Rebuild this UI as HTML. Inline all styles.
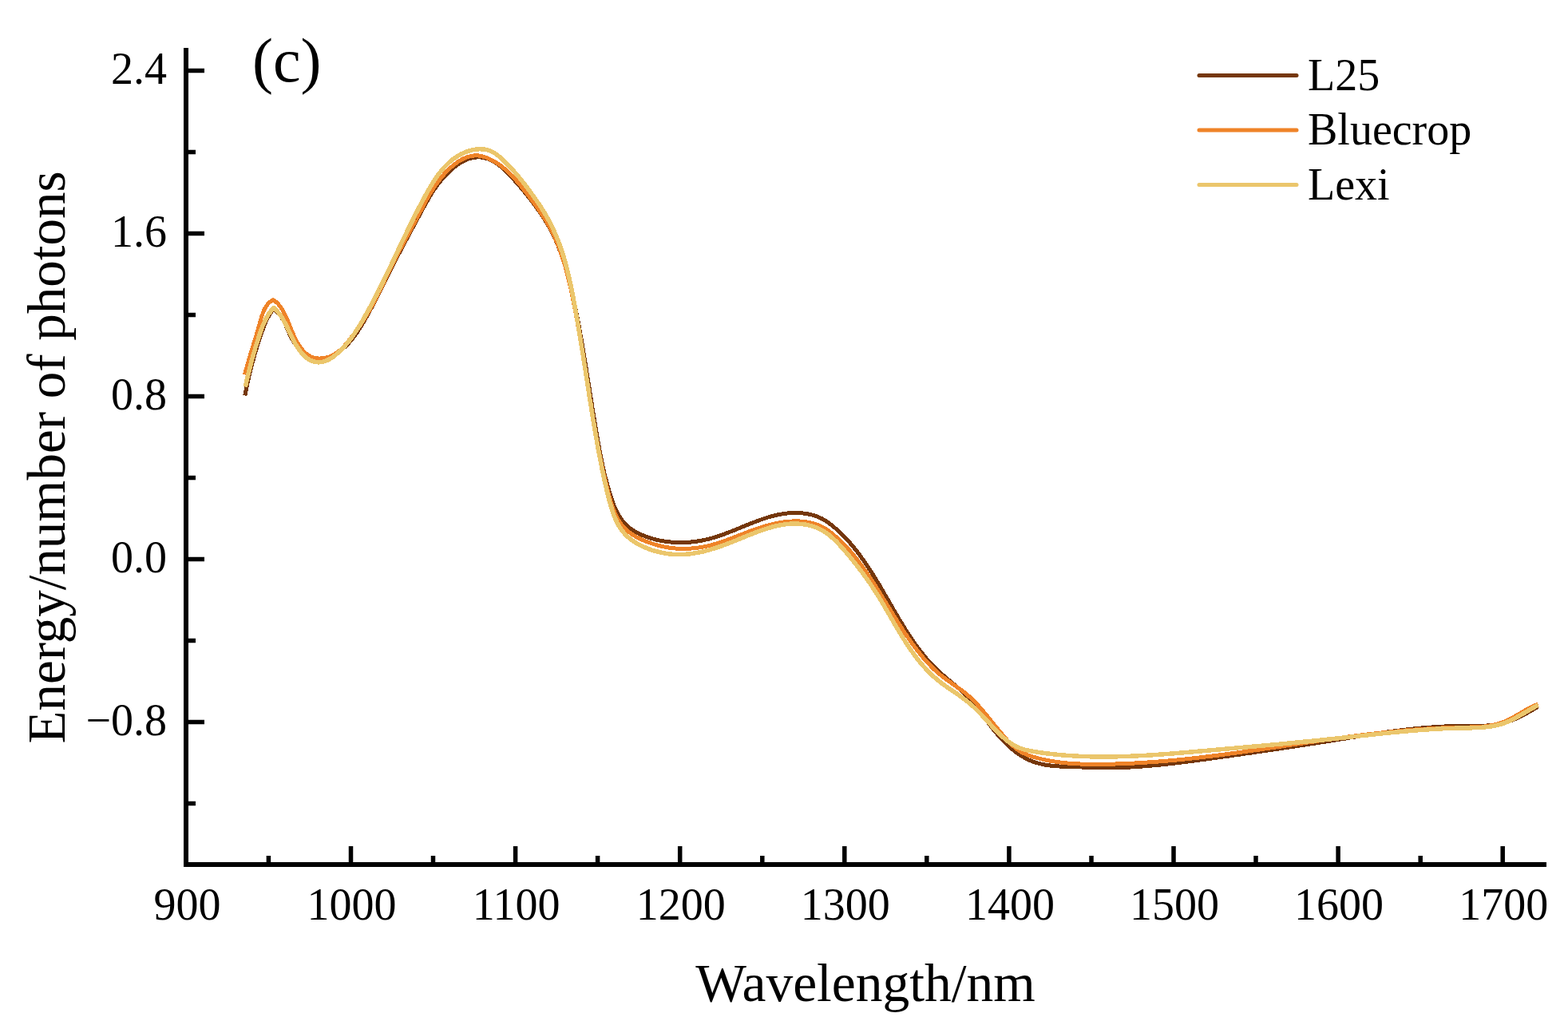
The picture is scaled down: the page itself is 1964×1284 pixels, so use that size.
<!DOCTYPE html>
<html><head><meta charset="utf-8"><title>Energy/number of photons vs Wavelength</title>
<style>
html,body{margin:0;padding:0;background:#fff;}
body{width:1964px;height:1284px;overflow:hidden;}
svg{display:block;}
text{font-family:"Liberation Serif","Times New Roman",serif;fill:#000;}
</style></head><body>
<svg width="1964" height="1284" viewBox="0 0 1964 1284">
<rect width="1964" height="1284" fill="#fff"/>
<g fill="none" stroke-width="5" stroke-linejoin="round" stroke-linecap="butt" shape-rendering="crispEdges">
<path stroke="#75370b" d="M306.8,495.5L307.2,493.5 307.6,491.5 308.0,489.5 308.4,487.5 308.8,485.5 309.2,483.5 309.7,481.5 310.1,479.5 310.5,477.4 311.0,475.4 311.4,473.4 311.9,471.4 312.4,469.4 312.9,467.4 313.4,465.4 313.8,463.4 314.3,461.3 314.9,459.3 315.4,457.3 315.9,455.3 316.4,453.3 317.0,451.3 317.5,449.3 318.1,447.3 318.6,445.3 319.2,443.3 319.8,441.3 320.4,439.3 321.0,437.3 321.6,435.4 322.2,433.4 322.8,431.4 323.4,429.4 324.1,427.4 324.7,425.5 325.4,423.5 326.0,421.6 326.7,419.6 327.4,417.7 328.1,415.7 328.8,413.8 329.5,411.8 330.2,409.9 330.9,408.0 331.7,406.1 332.5,404.2 333.3,402.3 334.2,400.5 335.1,398.7 336.0,396.9 337.0,395.2 338.1,393.4 339.2,391.8 340.4,390.1 341.7,388.5 343.0,387.0 344.6,388.2 346.0,389.5 347.4,390.9 348.7,392.3 350.0,393.8 351.1,395.4 352.2,397.0 353.3,398.7 354.3,400.4 355.2,402.1 356.1,403.9 357.0,405.7 357.9,407.5 358.7,409.4 359.5,411.3 360.4,413.1 361.2,415.0 362.0,416.9 362.9,418.7 363.8,420.6 364.7,422.5 365.6,424.3 366.6,426.1 367.6,427.9 368.7,429.6 369.9,431.3 371.1,432.9 372.4,434.5 373.7,436.1 375.1,437.6 376.6,439.0 378.1,440.4 379.6,441.7 381.3,442.9 382.9,444.0 384.6,445.0 386.3,446.0 388.1,446.8 389.9,447.6 391.7,448.2 393.6,448.7 395.4,449.1 397.3,449.4 399.2,449.6 401.1,449.6 403.0,449.5 404.9,449.2 406.8,448.9 408.6,448.5 410.5,447.9 412.4,447.2 414.2,446.5 416.1,445.7 417.9,444.8 419.6,443.8 421.4,442.7 423.1,441.6 424.8,440.5 426.4,439.3 428.0,438.0 429.5,436.8 431.1,435.4 432.5,434.1 434.0,432.7 435.4,431.2 436.8,429.8 438.1,428.3 439.4,426.7 440.7,425.2 442.0,423.6 443.2,422.0 444.4,420.4 445.6,418.7 446.8,417.1 447.9,415.4 449.0,413.7 450.1,412.0 451.2,410.2 452.3,408.5 453.4,406.7 454.4,405.0 455.4,403.2 456.4,401.5 457.4,399.7 458.4,397.9 459.4,396.2 460.4,394.4 461.4,392.6 462.4,390.9 463.3,389.1 464.3,387.3 465.2,385.6 466.1,383.8 467.1,382.0 468.0,380.3 468.9,378.5 469.8,376.7 470.7,375.0 471.7,373.2 472.6,371.4 473.5,369.6 474.4,367.9 475.2,366.1 476.1,364.3 477.0,362.5 477.9,360.8 478.8,359.0 479.7,357.2 480.6,355.4 481.4,353.7 482.3,351.9 483.2,350.1 484.1,348.3 485.0,346.6 485.9,344.8 486.7,343.0 487.6,341.2 488.5,339.4 489.4,337.7 490.3,335.9 491.2,334.1 492.1,332.3 493.0,330.6 493.9,328.8 494.8,327.0 495.7,325.2 496.7,323.4 497.6,321.7 498.5,319.9 499.4,318.1 500.4,316.3 501.3,314.5 502.2,312.8 503.2,311.0 504.1,309.2 505.0,307.4 506.0,305.7 506.9,303.9 507.9,302.1 508.8,300.3 509.8,298.5 510.7,296.8 511.7,295.0 512.6,293.2 513.6,291.4 514.5,289.7 515.5,287.9 516.4,286.1 517.4,284.4 518.3,282.6 519.3,280.8 520.2,279.0 521.2,277.3 522.1,275.5 523.0,273.7 524.0,272.0 524.9,270.2 525.9,268.5 526.8,266.7 527.8,264.9 528.7,263.2 529.6,261.4 530.6,259.7 531.6,257.9 532.5,256.2 533.5,254.4 534.5,252.7 535.5,251.0 536.4,249.3 537.5,247.6 538.5,245.8 539.5,244.2 540.6,242.5 541.6,240.8 542.7,239.1 543.8,237.5 545.0,235.8 546.1,234.2 547.3,232.6 548.5,231.0 549.7,229.4 550.9,227.8 552.2,226.2 553.5,224.6 554.8,223.1 556.2,221.6 557.5,220.1 559.0,218.6 560.4,217.1 561.9,215.7 563.4,214.2 565.0,212.8 566.5,211.4 568.1,210.1 569.8,208.8 571.4,207.6 573.1,206.3 574.8,205.2 576.6,204.1 578.3,203.1 580.1,202.1 581.9,201.2 583.7,200.4 585.5,199.6 587.3,198.9 589.2,198.3 591.0,197.9 592.9,197.5 594.8,197.2 596.7,197.0 598.6,196.9 600.5,196.9 602.4,197.0 604.3,197.3 606.1,197.6 608.0,198.1 609.9,198.6 611.7,199.2 613.5,200.0 615.3,200.8 617.1,201.7 618.8,202.6 620.5,203.7 622.2,204.8 623.9,205.9 625.5,207.2 627.1,208.4 628.7,209.8 630.2,211.1 631.7,212.5 633.2,214.0 634.7,215.4 636.2,216.9 637.6,218.4 639.0,219.9 640.4,221.4 641.8,223.0 643.2,224.5 644.5,226.0 645.8,227.5 647.2,229.0 648.5,230.5 649.8,232.0 651.1,233.5 652.4,235.0 653.6,236.5 654.9,238.0 656.1,239.5 657.4,241.1 658.6,242.6 659.9,244.1 661.1,245.7 662.3,247.2 663.6,248.8 664.8,250.3 666.0,251.9 667.2,253.5 668.4,255.1 669.6,256.7 670.8,258.3 672.0,260.0 673.2,261.6 674.4,263.2 675.5,264.9 676.7,266.5 677.8,268.2 679.0,269.9 680.1,271.6 681.2,273.3 682.2,275.0 683.3,276.7 684.3,278.4 685.4,280.1 686.4,281.9 687.4,283.6 688.3,285.4 689.3,287.1 690.2,288.9 691.1,290.7 692.0,292.5 692.9,294.2 693.8,296.0 694.6,297.8 695.5,299.7 696.3,301.5 697.1,303.3 697.9,305.1 698.6,307.0 699.4,308.8 700.1,310.6 700.8,312.5 701.6,314.4 702.3,316.2 702.9,318.1 703.6,320.0 704.3,321.9 704.9,323.7 705.6,325.6 706.2,327.5 706.8,329.4 707.4,331.3 708.0,333.2 708.6,335.2 709.1,337.1 709.7,339.0 710.2,340.9 710.8,342.8 711.3,344.8 711.8,346.7 712.4,348.6 712.9,350.6 713.4,352.5 713.8,354.5 714.3,356.4 714.8,358.4 715.3,360.3 715.7,362.3 716.2,364.2 716.6,366.2 717.1,368.2 717.5,370.1 717.9,372.1 718.3,374.1 718.8,376.0 719.2,378.0 719.6,380.0 720.0,381.9 720.4,383.9 720.8,385.9 721.2,387.8 721.6,389.8 722.0,391.8 722.4,393.7 722.7,395.7 723.1,397.7 723.5,399.7 723.9,401.6 724.2,403.6 724.6,405.6 725.0,407.6 725.3,409.5 725.7,411.5 726.1,413.5 726.4,415.5 726.8,417.4 727.1,419.4 727.5,421.4 727.8,423.4 728.2,425.3 728.5,427.3 728.8,429.3 729.2,431.3 729.5,433.2 729.9,435.2 730.2,437.2 730.5,439.2 730.9,441.1 731.2,443.1 731.5,445.1 731.8,447.1 732.2,449.1 732.5,451.0 732.8,453.0 733.1,455.0 733.5,457.0 733.8,458.9 734.1,460.9 734.4,462.9 734.7,464.9 735.0,466.8 735.4,468.8 735.7,470.8 736.0,472.8 736.3,474.8 736.6,476.7 736.9,478.7 737.2,480.7 737.6,482.7 737.9,484.6 738.2,486.6 738.5,488.6 738.8,490.6 739.1,492.5 739.4,494.5 739.7,496.5 740.1,498.5 740.4,500.5 740.7,502.4 741.0,504.4 741.3,506.4 741.6,508.4 741.9,510.3 742.3,512.3 742.6,514.3 742.9,516.3 743.2,518.2 743.5,520.2 743.9,522.2 744.2,524.1 744.5,526.1 744.8,528.1 745.2,530.1 745.5,532.0 745.8,534.0 746.1,536.0 746.5,537.9 746.8,539.9 747.1,541.9 747.5,543.9 747.8,545.8 748.1,547.8 748.5,549.8 748.8,551.7 749.2,553.7 749.5,555.7 749.9,557.6 750.2,559.6 750.6,561.6 750.9,563.5 751.3,565.5 751.7,567.4 752.1,569.4 752.4,571.4 752.8,573.3 753.2,575.3 753.6,577.3 754.0,579.2 754.4,581.2 754.8,583.1 755.3,585.1 755.7,587.0 756.1,589.0 756.6,591.0 757.0,592.9 757.5,594.9 758.0,596.8 758.5,598.8 759.0,600.7 759.5,602.7 760.0,604.6 760.5,606.6 761.1,608.5 761.6,610.5 762.2,612.4 762.7,614.4 763.3,616.3 763.9,618.3 764.5,620.2 765.1,622.1 765.8,624.1 766.4,626.0 767.1,627.9 767.8,629.9 768.5,631.8 769.3,633.7 770.1,635.5 770.9,637.4 771.7,639.2 772.6,641.0 773.5,642.8 774.4,644.5 775.4,646.2 776.5,647.9 777.5,649.5 778.7,651.1 779.9,652.6 781.1,654.1 782.4,655.6 783.7,656.9 785.1,658.3 786.6,659.6 788.1,660.8 789.6,662.0 791.2,663.1 792.9,664.2 794.5,665.3 796.2,666.3 798.0,667.2 799.8,668.1 801.6,669.0 803.4,669.9 805.3,670.7 807.1,671.4 809.0,672.2 810.9,672.8 812.9,673.5 814.8,674.1 816.8,674.7 818.7,675.2 820.7,675.8 822.7,676.2 824.7,676.7 826.7,677.1 828.7,677.5 830.7,677.8 832.7,678.1 834.8,678.4 836.8,678.7 838.8,678.9 840.8,679.1 842.8,679.3 844.8,679.4 846.8,679.5 848.8,679.6 850.8,679.6 852.8,679.6 854.7,679.6 856.7,679.6 858.7,679.5 860.7,679.4 862.6,679.3 864.6,679.1 866.6,678.9 868.5,678.7 870.5,678.5 872.4,678.2 874.3,677.9 876.3,677.6 878.2,677.2 880.2,676.9 882.1,676.5 884.0,676.0 885.9,675.6 887.9,675.1 889.8,674.6 891.7,674.1 893.6,673.5 895.5,672.9 897.4,672.3 899.3,671.7 901.2,671.1 903.1,670.4 905.0,669.8 906.9,669.1 908.8,668.4 910.7,667.7 912.6,666.9 914.5,666.2 916.4,665.5 918.2,664.7 920.1,664.0 922.0,663.2 923.9,662.4 925.8,661.7 927.7,660.9 929.6,660.1 931.4,659.3 933.3,658.6 935.2,657.8 937.1,657.0 939.0,656.3 940.9,655.5 942.8,654.8 944.7,654.1 946.6,653.4 948.4,652.6 950.3,652.0 952.2,651.3 954.1,650.6 956.0,650.0 958.0,649.3 959.9,648.7 961.8,648.1 963.7,647.6 965.6,647.0 967.5,646.5 969.4,646.0 971.4,645.5 973.3,645.1 975.2,644.7 977.2,644.3 979.1,644.0 981.1,643.6 983.0,643.4 985.0,643.1 986.9,642.9 988.9,642.7 990.9,642.6 992.9,642.5 994.8,642.4 996.8,642.4 998.8,642.5 1000.8,642.6 1002.8,642.7 1004.8,642.8 1006.8,643.1 1008.8,643.3 1010.8,643.7 1012.7,644.0 1014.7,644.5 1016.6,644.9 1018.6,645.5 1020.5,646.1 1022.4,646.7 1024.2,647.4 1026.1,648.2 1027.9,649.0 1029.7,649.9 1031.4,650.9 1033.1,651.9 1034.8,653.0 1036.5,654.1 1038.1,655.2 1039.8,656.4 1041.4,657.7 1042.9,658.9 1044.5,660.2 1046.0,661.5 1047.5,662.8 1049.0,664.2 1050.5,665.5 1052.0,666.9 1053.4,668.3 1054.9,669.7 1056.3,671.1 1057.7,672.6 1059.1,674.0 1060.5,675.5 1061.8,676.9 1063.2,678.4 1064.5,679.9 1065.8,681.5 1067.1,683.0 1068.4,684.5 1069.7,686.1 1070.9,687.7 1072.2,689.2 1073.4,690.8 1074.7,692.4 1075.9,694.0 1077.1,695.6 1078.3,697.3 1079.4,698.9 1080.6,700.5 1081.8,702.2 1082.9,703.8 1084.1,705.5 1085.2,707.1 1086.3,708.8 1087.4,710.5 1088.5,712.1 1089.6,713.8 1090.7,715.5 1091.8,717.2 1092.8,718.9 1093.9,720.6 1094.9,722.3 1096.0,724.0 1097.0,725.7 1098.1,727.4 1099.1,729.1 1100.1,730.8 1101.2,732.5 1102.2,734.2 1103.2,736.0 1104.2,737.7 1105.2,739.4 1106.2,741.1 1107.2,742.8 1108.2,744.6 1109.2,746.3 1110.2,748.0 1111.2,749.7 1112.2,751.5 1113.2,753.2 1114.2,754.9 1115.2,756.7 1116.2,758.4 1117.2,760.1 1118.2,761.8 1119.2,763.6 1120.2,765.3 1121.2,767.0 1122.2,768.7 1123.2,770.5 1124.2,772.2 1125.2,773.9 1126.2,775.6 1127.3,777.3 1128.3,779.0 1129.3,780.7 1130.4,782.5 1131.4,784.2 1132.5,785.9 1133.5,787.6 1134.6,789.3 1135.6,790.9 1136.7,792.6 1137.8,794.3 1138.9,796.0 1140.0,797.7 1141.1,799.3 1142.3,801.0 1143.4,802.6 1144.5,804.3 1145.7,805.9 1146.8,807.5 1148.0,809.2 1149.2,810.8 1150.4,812.4 1151.6,814.0 1152.8,815.5 1154.0,817.1 1155.3,818.7 1156.5,820.2 1157.8,821.8 1159.1,823.3 1160.4,824.9 1161.7,826.4 1163.0,827.9 1164.3,829.4 1165.7,830.8 1167.0,832.3 1168.4,833.7 1169.8,835.2 1171.2,836.6 1172.7,838.0 1174.1,839.4 1175.6,840.8 1177.1,842.1 1178.6,843.5 1180.1,844.8 1181.6,846.1 1183.1,847.5 1184.7,848.8 1186.2,850.1 1187.8,851.4 1189.3,852.7 1190.9,854.0 1192.4,855.3 1194.0,856.5 1195.5,857.8 1197.1,859.1 1198.6,860.4 1200.1,861.7 1201.7,863.1 1203.2,864.4 1204.7,865.7 1206.1,867.1 1207.6,868.4 1209.0,869.8 1210.5,871.2 1211.8,872.6 1213.2,874.0 1214.6,875.5 1215.9,876.9 1217.2,878.4 1218.5,879.9 1219.7,881.4 1221.0,882.9 1222.2,884.5 1223.4,886.0 1224.7,887.6 1225.9,889.2 1227.1,890.7 1228.2,892.3 1229.4,893.9 1230.6,895.5 1231.8,897.1 1232.9,898.7 1234.1,900.3 1235.3,901.9 1236.5,903.6 1237.7,905.2 1238.9,906.8 1240.1,908.4 1241.3,910.0 1242.6,911.6 1243.8,913.2 1245.1,914.8 1246.4,916.3 1247.7,917.9 1249.0,919.5 1250.3,921.0 1251.6,922.5 1253.0,924.1 1254.4,925.6 1255.7,927.0 1257.1,928.5 1258.6,929.9 1260.0,931.4 1261.5,932.8 1262.9,934.2 1264.4,935.5 1265.9,936.8 1267.4,938.1 1269.0,939.4 1270.5,940.7 1272.1,941.9 1273.7,943.0 1275.3,944.2 1276.9,945.3 1278.6,946.4 1280.3,947.4 1281.9,948.4 1283.7,949.4 1285.4,950.3 1287.1,951.2 1288.9,952.0 1290.7,952.8 1292.5,953.5 1294.3,954.2 1296.2,954.9 1298.0,955.5 1299.9,956.0 1301.8,956.5 1303.8,957.0 1305.7,957.4 1307.7,957.8 1309.6,958.2 1311.6,958.5 1313.6,958.8 1315.6,959.0 1317.6,959.3 1319.7,959.5 1321.7,959.6 1323.7,959.8 1325.8,959.9 1327.8,960.1 1329.9,960.2 1331.9,960.3 1334.0,960.3 1336.1,960.4 1338.1,960.5 1340.2,960.5 1342.2,960.6 1344.3,960.7 1346.3,960.7 1348.3,960.8 1350.4,960.9 1352.4,960.9 1354.4,961.0 1356.4,961.1 1358.4,961.2 1360.4,961.2 1362.4,961.3 1364.4,961.4 1366.4,961.4 1368.4,961.5 1370.4,961.6 1372.4,961.6 1374.4,961.7 1376.4,961.7 1378.3,961.7 1380.3,961.8 1382.3,961.8 1384.3,961.8 1386.3,961.8 1388.3,961.8 1390.3,961.8 1392.2,961.8 1394.2,961.8 1396.2,961.7 1398.2,961.7 1400.2,961.6 1402.2,961.6 1404.2,961.5 1406.2,961.4 1408.2,961.4 1410.1,961.3 1412.1,961.2 1414.1,961.1 1416.1,961.0 1418.1,960.9 1420.1,960.8 1422.1,960.6 1424.1,960.5 1426.1,960.4 1428.1,960.2 1430.1,960.1 1432.1,959.9 1434.0,959.8 1436.0,959.6 1438.0,959.5 1440.0,959.3 1442.0,959.1 1444.0,958.9 1446.0,958.8 1448.0,958.6 1450.0,958.4 1452.0,958.2 1454.0,958.0 1456.0,957.8 1458.0,957.6 1460.0,957.3 1462.0,957.1 1463.9,956.9 1465.9,956.7 1467.9,956.4 1469.9,956.2 1471.9,956.0 1473.9,955.7 1475.9,955.5 1477.9,955.3 1479.9,955.0 1481.9,954.8 1483.9,954.5 1485.9,954.3 1487.9,954.0 1489.9,953.7 1491.9,953.5 1493.8,953.2 1495.8,953.0 1497.8,952.7 1499.8,952.4 1501.8,952.2 1503.8,951.9 1505.8,951.6 1507.8,951.4 1509.8,951.1 1511.8,950.8 1513.8,950.5 1515.7,950.3 1517.7,950.0 1519.7,949.7 1521.7,949.4 1523.7,949.2 1525.7,948.9 1527.7,948.6 1529.7,948.3 1531.6,948.1 1533.6,947.8 1535.6,947.5 1537.6,947.2 1539.6,947.0 1541.6,946.7 1543.6,946.4 1545.6,946.1 1547.5,945.8 1549.5,945.6 1551.5,945.3 1553.5,945.0 1555.5,944.7 1557.5,944.4 1559.4,944.1 1561.4,943.9 1563.4,943.6 1565.4,943.3 1567.4,943.0 1569.4,942.7 1571.3,942.4 1573.3,942.1 1575.3,941.9 1577.3,941.6 1579.3,941.3 1581.2,941.0 1583.2,940.7 1585.2,940.4 1587.2,940.1 1589.2,939.8 1591.1,939.5 1593.1,939.3 1595.1,939.0 1597.1,938.7 1599.1,938.4 1601.0,938.1 1603.0,937.8 1605.0,937.5 1607.0,937.2 1609.0,936.9 1610.9,936.6 1612.9,936.3 1614.9,936.0 1616.9,935.7 1618.9,935.4 1620.8,935.1 1622.8,934.8 1624.8,934.5 1626.8,934.2 1628.8,933.9 1630.7,933.6 1632.7,933.3 1634.7,933.0 1636.7,932.7 1638.6,932.4 1640.6,932.1 1642.6,931.8 1644.6,931.5 1646.6,931.2 1648.5,930.9 1650.5,930.5 1652.5,930.2 1654.5,929.9 1656.4,929.6 1658.4,929.3 1660.4,929.0 1662.4,928.7 1664.4,928.4 1666.3,928.0 1668.3,927.7 1670.3,927.4 1672.3,927.1 1674.2,926.8 1676.2,926.5 1678.2,926.1 1680.2,925.8 1682.2,925.5 1684.1,925.2 1686.1,924.9 1688.1,924.6 1690.1,924.2 1692.0,923.9 1694.0,923.6 1696.0,923.3 1698.0,923.0 1700.0,922.7 1701.9,922.3 1703.9,922.0 1705.9,921.7 1707.9,921.4 1709.9,921.1 1711.8,920.8 1713.8,920.5 1715.8,920.2 1717.8,919.9 1719.8,919.6 1721.7,919.3 1723.7,919.0 1725.7,918.7 1727.7,918.4 1729.7,918.1 1731.7,917.8 1733.6,917.6 1735.6,917.3 1737.6,917.0 1739.6,916.7 1741.6,916.5 1743.6,916.2 1745.6,915.9 1747.5,915.7 1749.5,915.4 1751.5,915.2 1753.5,914.9 1755.5,914.7 1757.5,914.4 1759.5,914.2 1761.5,914.0 1763.4,913.7 1765.4,913.5 1767.4,913.3 1769.4,913.1 1771.4,912.9 1773.4,912.7 1775.4,912.5 1777.4,912.3 1779.4,912.1 1781.4,911.9 1783.4,911.7 1785.4,911.6 1787.4,911.4 1789.4,911.3 1791.4,911.1 1793.4,911.0 1795.4,910.8 1797.4,910.7 1799.4,910.6 1801.4,910.4 1803.4,910.3 1805.4,910.2 1807.4,910.1 1809.4,910.0 1811.4,909.9 1813.4,909.9 1815.4,909.8 1817.4,909.7 1819.4,909.7 1821.4,909.6 1823.4,909.6 1825.4,909.6 1827.4,909.5 1829.4,909.5 1831.5,909.5 1833.5,909.5 1835.5,909.5 1837.5,909.5 1839.5,909.5 1841.5,909.5 1843.5,909.5 1845.5,909.5 1847.5,909.5 1849.6,909.5 1851.6,909.5 1853.6,909.4 1855.6,909.4 1857.6,909.3 1859.5,909.2 1861.5,909.1 1863.5,908.9 1865.5,908.8 1867.5,908.6 1869.4,908.4 1871.4,908.1 1873.4,907.8 1875.3,907.5 1877.3,907.1 1879.2,906.7 1881.1,906.3 1883.1,905.8 1885.0,905.3 1886.9,904.7 1888.8,904.1 1890.7,903.4 1892.6,902.7 1894.5,902.0 1896.3,901.2 1898.2,900.4 1900.1,899.6 1901.9,898.7 1903.7,897.8 1905.6,896.9 1907.4,896.0 1909.2,895.1 1910.9,894.1 1912.7,893.1 1914.5,892.1 1916.2,891.1 1918.0,890.1 1919.7,889.1 1921.4,888.1 1923.1,887.1 1924.8,886.1 1926.5,885.1"/>
<path stroke="#ef8328" d="M306.5,469.5L307.0,467.5 307.5,465.5 308.1,463.5 308.6,461.5 309.1,459.5 309.7,457.5 310.2,455.6 310.8,453.6 311.4,451.7 311.9,449.7 312.5,447.7 313.1,445.8 313.7,443.8 314.3,441.9 314.9,439.9 315.5,438.0 316.1,436.1 316.7,434.1 317.3,432.2 317.9,430.2 318.5,428.3 319.1,426.3 319.7,424.3 320.3,422.4 320.9,420.4 321.4,418.5 322.0,416.5 322.6,414.5 323.2,412.5 323.8,410.5 324.4,408.5 324.9,406.5 325.5,404.5 326.1,402.5 326.6,400.4 327.2,398.4 327.8,396.4 328.5,394.4 329.2,392.5 329.9,390.6 330.7,388.7 331.5,386.9 332.5,385.2 333.5,383.6 334.6,382.0 335.9,380.5 337.2,379.1 338.7,377.8 340.3,376.6 342.0,375.6 343.7,376.7 345.3,377.9 346.8,379.2 348.2,380.5 349.4,382.0 350.7,383.5 351.8,385.0 352.9,386.6 353.9,388.2 354.8,389.9 355.7,391.6 356.6,393.4 357.5,395.1 358.3,396.9 359.1,398.7 359.8,400.5 360.6,402.3 361.4,404.2 362.1,406.0 362.9,407.9 363.6,409.7 364.4,411.6 365.2,413.5 366.0,415.4 366.8,417.3 367.6,419.2 368.5,421.1 369.4,423.0 370.4,424.9 371.3,426.8 372.3,428.7 373.4,430.5 374.5,432.3 375.7,434.1 376.8,435.8 378.1,437.4 379.4,438.9 380.7,440.4 382.1,441.8 383.5,443.1 385.0,444.2 386.6,445.3 388.2,446.2 389.9,447.0 391.6,447.6 393.4,448.2 395.2,448.6 397.1,448.8 399.0,449.0 400.9,449.0 402.8,448.9 404.8,448.7 406.7,448.4 408.6,448.0 410.5,447.5 412.4,446.9 414.3,446.1 416.1,445.3 417.9,444.4 419.6,443.4 421.3,442.3 422.9,441.1 424.5,439.9 426.0,438.6 427.5,437.2 429.0,435.8 430.4,434.3 431.8,432.8 433.1,431.3 434.5,429.7 435.8,428.1 437.0,426.5 438.3,424.8 439.6,423.2 440.8,421.6 442.0,420.0 443.3,418.4 444.5,416.7 445.7,415.1 446.9,413.5 448.0,411.9 449.2,410.3 450.3,408.6 451.5,407.0 452.6,405.3 453.7,403.7 454.8,402.0 455.8,400.3 456.9,398.6 457.9,396.9 459.0,395.2 460.0,393.5 461.0,391.8 462.0,390.1 463.0,388.4 463.9,386.6 464.9,384.9 465.9,383.1 466.8,381.4 467.7,379.6 468.7,377.8 469.6,376.1 470.5,374.3 471.4,372.5 472.3,370.7 473.2,368.9 474.1,367.2 475.0,365.4 475.9,363.6 476.7,361.8 477.6,360.0 478.5,358.2 479.4,356.4 480.2,354.6 481.1,352.8 482.0,350.9 482.8,349.1 483.7,347.3 484.6,345.5 485.4,343.7 486.3,341.9 487.2,340.1 488.1,338.3 488.9,336.5 489.8,334.7 490.7,332.9 491.6,331.1 492.5,329.3 493.4,327.5 494.3,325.8 495.2,324.0 496.1,322.2 497.0,320.4 498.0,318.6 498.9,316.9 499.8,315.1 500.7,313.3 501.7,311.5 502.6,309.8 503.6,308.0 504.5,306.2 505.4,304.5 506.4,302.7 507.3,300.9 508.3,299.2 509.2,297.4 510.2,295.6 511.1,293.9 512.1,292.1 513.0,290.3 513.9,288.6 514.9,286.8 515.8,285.1 516.8,283.3 517.7,281.5 518.7,279.8 519.6,278.0 520.5,276.2 521.5,274.5 522.4,272.7 523.3,270.9 524.3,269.1 525.2,267.4 526.1,265.6 527.1,263.8 528.0,262.1 528.9,260.3 529.9,258.5 530.8,256.8 531.7,255.0 532.7,253.2 533.6,251.5 534.6,249.7 535.6,248.0 536.6,246.2 537.6,244.5 538.6,242.8 539.6,241.1 540.7,239.4 541.7,237.7 542.8,236.0 543.9,234.3 545.0,232.7 546.1,231.0 547.3,229.4 548.5,227.8 549.7,226.1 550.9,224.5 552.2,223.0 553.5,221.4 554.8,219.9 556.1,218.3 557.5,216.8 558.9,215.3 560.3,213.8 561.8,212.4 563.3,211.0 564.8,209.6 566.4,208.2 568.0,206.9 569.6,205.6 571.3,204.3 572.9,203.1 574.6,202.0 576.4,201.0 578.1,200.0 579.9,199.0 581.7,198.2 583.5,197.4 585.3,196.8 587.1,196.2 589.0,195.7 590.8,195.3 592.7,195.1 594.6,194.9 596.5,194.9 598.4,194.9 600.3,195.1 602.3,195.5 604.2,195.9 606.1,196.4 608.0,197.0 609.9,197.7 611.8,198.5 613.6,199.4 615.4,200.3 617.2,201.2 619.0,202.2 620.7,203.2 622.4,204.3 624.1,205.4 625.7,206.5 627.3,207.7 628.9,208.9 630.5,210.1 632.0,211.4 633.5,212.7 635.0,214.0 636.5,215.3 637.9,216.7 639.3,218.1 640.8,219.5 642.1,221.0 643.5,222.4 644.9,223.9 646.2,225.4 647.5,227.0 648.8,228.5 650.1,230.0 651.4,231.6 652.7,233.2 654.0,234.8 655.2,236.4 656.5,238.0 657.7,239.6 658.9,241.2 660.2,242.8 661.4,244.4 662.6,246.0 663.8,247.7 665.0,249.3 666.3,250.9 667.5,252.5 668.7,254.1 669.9,255.8 671.1,257.4 672.2,259.0 673.4,260.7 674.6,262.3 675.7,263.9 676.8,265.6 678.0,267.3 679.1,268.9 680.2,270.6 681.3,272.3 682.3,273.9 683.4,275.6 684.4,277.3 685.4,279.1 686.4,280.8 687.3,282.5 688.3,284.2 689.2,286.0 690.1,287.8 691.0,289.5 691.9,291.3 692.8,293.1 693.6,294.9 694.5,296.7 695.3,298.5 696.1,300.3 696.8,302.1 697.6,303.9 698.4,305.8 699.1,307.6 699.8,309.5 700.5,311.3 701.2,313.2 701.9,315.1 702.6,316.9 703.2,318.8 703.8,320.7 704.5,322.6 705.1,324.5 705.7,326.4 706.3,328.3 706.9,330.2 707.4,332.1 708.0,334.1 708.5,336.0 709.1,337.9 709.6,339.8 710.1,341.8 710.6,343.7 711.1,345.7 711.6,347.6 712.1,349.6 712.6,351.5 713.0,353.5 713.5,355.4 713.9,357.4 714.4,359.4 714.8,361.3 715.3,363.3 715.7,365.3 716.1,367.3 716.5,369.2 716.9,371.2 717.3,373.2 717.7,375.2 718.1,377.1 718.5,379.1 718.9,381.1 719.3,383.1 719.7,385.1 720.1,387.0 720.4,389.0 720.8,391.0 721.2,393.0 721.5,395.0 721.9,396.9 722.3,398.9 722.6,400.9 723.0,402.9 723.3,404.9 723.7,406.8 724.1,408.8 724.4,410.8 724.7,412.8 725.1,414.7 725.4,416.7 725.8,418.7 726.1,420.7 726.5,422.7 726.8,424.6 727.1,426.6 727.5,428.6 727.8,430.6 728.1,432.5 728.4,434.5 728.8,436.5 729.1,438.5 729.4,440.5 729.7,442.4 730.1,444.4 730.4,446.4 730.7,448.4 731.0,450.3 731.4,452.3 731.7,454.3 732.0,456.3 732.3,458.2 732.6,460.2 732.9,462.2 733.2,464.2 733.6,466.1 733.9,468.1 734.2,470.1 734.5,472.1 734.8,474.0 735.1,476.0 735.4,478.0 735.8,480.0 736.1,481.9 736.4,483.9 736.7,485.9 737.0,487.8 737.3,489.8 737.6,491.8 738.0,493.8 738.3,495.7 738.6,497.7 738.9,499.7 739.2,501.6 739.5,503.6 739.9,505.6 740.2,507.5 740.5,509.5 740.8,511.5 741.1,513.4 741.5,515.4 741.8,517.4 742.1,519.4 742.4,521.3 742.8,523.3 743.1,525.3 743.4,527.2 743.7,529.2 744.1,531.1 744.4,533.1 744.8,535.1 745.1,537.0 745.4,539.0 745.8,541.0 746.1,542.9 746.5,544.9 746.8,546.9 747.2,548.8 747.5,550.8 747.9,552.7 748.2,554.7 748.6,556.7 748.9,558.6 749.3,560.6 749.7,562.5 750.1,564.5 750.4,566.5 750.8,568.4 751.2,570.4 751.6,572.3 752.0,574.3 752.4,576.3 752.8,578.2 753.2,580.2 753.6,582.1 754.0,584.1 754.4,586.1 754.8,588.0 755.3,590.0 755.7,591.9 756.2,593.9 756.6,595.9 757.1,597.8 757.5,599.8 758.0,601.8 758.5,603.7 759.0,605.7 759.5,607.7 760.0,609.6 760.5,611.6 761.0,613.6 761.5,615.5 762.0,617.5 762.6,619.5 763.1,621.4 763.7,623.4 764.2,625.4 764.8,627.3 765.4,629.3 766.0,631.2 766.7,633.2 767.3,635.1 768.0,637.0 768.7,638.9 769.5,640.8 770.2,642.6 771.1,644.5 771.9,646.3 772.8,648.0 773.7,649.7 774.7,651.4 775.7,653.1 776.7,654.7 777.9,656.3 779.0,657.9 780.2,659.3 781.5,660.8 782.8,662.2 784.2,663.5 785.7,664.8 787.2,666.1 788.7,667.2 790.3,668.4 792.0,669.5 793.7,670.6 795.4,671.6 797.1,672.6 798.9,673.5 800.7,674.4 802.6,675.3 804.4,676.2 806.3,677.0 808.2,677.7 810.1,678.5 812.0,679.2 813.9,679.9 815.8,680.6 817.7,681.2 819.7,681.9 821.6,682.4 823.6,683.0 825.5,683.5 827.5,684.0 829.5,684.4 831.4,684.9 833.4,685.3 835.4,685.6 837.4,686.0 839.4,686.2 841.4,686.5 843.3,686.7 845.3,686.9 847.3,687.1 849.3,687.2 851.3,687.3 853.3,687.4 855.3,687.4 857.3,687.4 859.3,687.4 861.2,687.3 863.2,687.2 865.2,687.1 867.2,686.9 869.2,686.8 871.1,686.5 873.1,686.3 875.1,686.0 877.0,685.7 879.0,685.4 880.9,685.0 882.9,684.7 884.8,684.3 886.7,683.8 888.7,683.4 890.6,682.9 892.5,682.3 894.4,681.8 896.3,681.2 898.2,680.7 900.1,680.1 902.0,679.4 903.9,678.8 905.8,678.2 907.7,677.5 909.6,676.8 911.4,676.1 913.3,675.4 915.2,674.7 917.1,674.0 919.0,673.3 920.8,672.5 922.7,671.8 924.6,671.1 926.5,670.3 928.4,669.6 930.3,668.9 932.1,668.1 934.0,667.4 935.9,666.7 937.8,666.0 939.7,665.3 941.7,664.6 943.6,663.9 945.5,663.2 947.4,662.6 949.3,661.9 951.2,661.3 953.2,660.7 955.1,660.1 957.0,659.5 958.9,658.9 960.9,658.4 962.8,657.8 964.8,657.3 966.7,656.8 968.7,656.4 970.6,655.9 972.6,655.5 974.5,655.1 976.5,654.8 978.5,654.4 980.4,654.1 982.4,653.9 984.4,653.6 986.3,653.4 988.3,653.2 990.3,653.1 992.3,653.0 994.3,652.9 996.3,652.9 998.2,652.9 1000.2,652.9 1002.2,653.0 1004.2,653.2 1006.2,653.4 1008.2,653.6 1010.1,653.9 1012.1,654.2 1014.1,654.6 1016.0,655.0 1017.9,655.5 1019.8,656.0 1021.7,656.6 1023.6,657.3 1025.4,658.0 1027.2,658.8 1029.0,659.6 1030.8,660.6 1032.5,661.6 1034.2,662.6 1035.9,663.7 1037.6,664.8 1039.2,666.0 1040.8,667.3 1042.4,668.5 1044.0,669.8 1045.5,671.1 1047.1,672.4 1048.6,673.8 1050.1,675.1 1051.6,676.5 1053.0,677.9 1054.5,679.3 1055.9,680.7 1057.3,682.1 1058.7,683.6 1060.1,685.0 1061.4,686.5 1062.8,688.0 1064.1,689.5 1065.4,691.0 1066.7,692.5 1068.0,694.1 1069.3,695.6 1070.6,697.2 1071.8,698.7 1073.1,700.3 1074.3,701.9 1075.5,703.5 1076.7,705.1 1077.9,706.7 1079.1,708.3 1080.3,709.9 1081.5,711.6 1082.6,713.2 1083.8,714.8 1084.9,716.5 1086.0,718.1 1087.2,719.8 1088.3,721.5 1089.4,723.1 1090.5,724.8 1091.6,726.4 1092.7,728.1 1093.8,729.8 1094.9,731.5 1096.0,733.1 1097.0,734.8 1098.1,736.5 1099.2,738.2 1100.2,739.9 1101.3,741.6 1102.3,743.3 1103.4,745.0 1104.4,746.7 1105.5,748.3 1106.5,750.0 1107.6,751.7 1108.6,753.4 1109.7,755.1 1110.7,756.8 1111.7,758.5 1112.8,760.2 1113.8,761.9 1114.9,763.6 1115.9,765.3 1117.0,767.0 1118.0,768.7 1119.1,770.4 1120.1,772.1 1121.2,773.8 1122.2,775.5 1123.3,777.2 1124.4,778.9 1125.4,780.6 1126.5,782.3 1127.6,784.0 1128.7,785.7 1129.7,787.3 1130.8,789.0 1131.9,790.7 1133.0,792.4 1134.2,794.0 1135.3,795.7 1136.4,797.4 1137.5,799.0 1138.7,800.7 1139.8,802.3 1141.0,803.9 1142.1,805.6 1143.3,807.2 1144.5,808.8 1145.7,810.4 1146.9,812.0 1148.1,813.6 1149.3,815.2 1150.5,816.7 1151.8,818.3 1153.0,819.9 1154.3,821.4 1155.6,822.9 1156.9,824.5 1158.2,826.0 1159.5,827.5 1160.8,829.0 1162.1,830.4 1163.5,831.9 1164.9,833.3 1166.3,834.8 1167.7,836.2 1169.1,837.6 1170.5,839.0 1172.0,840.3 1173.4,841.7 1174.9,843.0 1176.5,844.3 1178.0,845.5 1179.6,846.8 1181.1,848.0 1182.7,849.2 1184.3,850.4 1186.0,851.6 1187.6,852.8 1189.2,853.9 1190.9,855.1 1192.5,856.2 1194.1,857.4 1195.8,858.5 1197.4,859.7 1199.1,860.9 1200.7,862.0 1202.3,863.2 1203.9,864.4 1205.5,865.6 1207.1,866.8 1208.7,868.0 1210.2,869.3 1211.8,870.6 1213.3,871.9 1214.8,873.2 1216.2,874.5 1217.7,875.9 1219.1,877.3 1220.5,878.7 1221.9,880.2 1223.3,881.6 1224.6,883.1 1226.0,884.5 1227.3,886.0 1228.6,887.6 1229.9,889.1 1231.2,890.6 1232.5,892.1 1233.8,893.7 1235.1,895.3 1236.4,896.8 1237.6,898.4 1238.9,899.9 1240.2,901.5 1241.4,903.1 1242.7,904.7 1244.0,906.2 1245.3,907.8 1246.5,909.4 1247.8,910.9 1249.1,912.5 1250.4,914.1 1251.7,915.6 1252.9,917.2 1254.3,918.7 1255.6,920.3 1256.9,921.8 1258.2,923.3 1259.5,924.8 1260.9,926.4 1262.2,927.9 1263.6,929.3 1265.0,930.8 1266.4,932.2 1267.9,933.6 1269.4,934.9 1270.9,936.2 1272.4,937.5 1274.0,938.6 1275.6,939.8 1277.2,940.8 1278.9,941.9 1280.6,942.8 1282.4,943.7 1284.2,944.5 1286.0,945.3 1287.9,946.0 1289.8,946.7 1291.6,947.3 1293.5,947.9 1295.5,948.5 1297.4,949.0 1299.3,949.6 1301.2,950.1 1303.2,950.6 1305.1,951.0 1307.1,951.5 1309.0,951.9 1311.0,952.3 1312.9,952.7 1314.9,953.1 1316.8,953.4 1318.8,953.7 1320.8,954.0 1322.8,954.3 1324.7,954.6 1326.7,954.9 1328.7,955.1 1330.7,955.4 1332.7,955.6 1334.7,955.8 1336.7,956.0 1338.6,956.1 1340.6,956.3 1342.6,956.4 1344.7,956.6 1346.7,956.7 1348.7,956.8 1350.7,956.9 1352.7,957.0 1354.7,957.1 1356.7,957.1 1358.7,957.2 1360.7,957.2 1362.7,957.3 1364.7,957.3 1366.8,957.3 1368.8,957.4 1370.8,957.4 1372.8,957.4 1374.8,957.4 1376.8,957.4 1378.8,957.3 1380.9,957.3 1382.9,957.3 1384.9,957.3 1386.9,957.2 1388.9,957.2 1390.9,957.1 1392.9,957.1 1394.9,957.1 1396.9,957.0 1398.9,956.9 1401.0,956.9 1403.0,956.8 1405.0,956.7 1407.0,956.7 1409.0,956.6 1411.0,956.5 1413.0,956.4 1415.0,956.3 1417.0,956.2 1419.0,956.1 1421.0,956.0 1423.0,955.9 1425.0,955.8 1427.0,955.7 1429.0,955.5 1431.0,955.4 1433.0,955.3 1435.0,955.2 1437.0,955.0 1439.0,954.9 1441.0,954.8 1443.0,954.6 1445.0,954.5 1447.0,954.3 1449.0,954.2 1451.0,954.0 1453.0,953.8 1454.9,953.7 1456.9,953.5 1458.9,953.3 1460.9,953.2 1462.9,953.0 1464.9,952.8 1466.9,952.6 1468.9,952.4 1470.9,952.3 1472.9,952.1 1474.9,951.9 1476.9,951.7 1478.8,951.5 1480.8,951.3 1482.8,951.1 1484.8,950.9 1486.8,950.7 1488.8,950.4 1490.8,950.2 1492.8,950.0 1494.7,949.8 1496.7,949.6 1498.7,949.3 1500.7,949.1 1502.7,948.9 1504.7,948.7 1506.7,948.4 1508.7,948.2 1510.6,947.9 1512.6,947.7 1514.6,947.5 1516.6,947.2 1518.6,947.0 1520.6,946.7 1522.5,946.5 1524.5,946.2 1526.5,946.0 1528.5,945.7 1530.5,945.5 1532.5,945.2 1534.4,944.9 1536.4,944.7 1538.4,944.4 1540.4,944.1 1542.4,943.9 1544.4,943.6 1546.3,943.3 1548.3,943.1 1550.3,942.8 1552.3,942.5 1554.3,942.2 1556.3,942.0 1558.2,941.7 1560.2,941.4 1562.2,941.1 1564.2,940.9 1566.2,940.6 1568.1,940.3 1570.1,940.0 1572.1,939.7 1574.1,939.4 1576.1,939.2 1578.1,938.9 1580.0,938.6 1582.0,938.3 1584.0,938.0 1586.0,937.7 1588.0,937.4 1589.9,937.1 1591.9,936.8 1593.9,936.5 1595.9,936.3 1597.9,936.0 1599.8,935.7 1601.8,935.4 1603.8,935.1 1605.8,934.8 1607.8,934.5 1609.7,934.2 1611.7,933.9 1613.7,933.6 1615.7,933.3 1617.7,933.0 1619.7,932.7 1621.6,932.5 1623.6,932.2 1625.6,931.9 1627.6,931.6 1629.6,931.3 1631.5,931.0 1633.5,930.7 1635.5,930.4 1637.5,930.1 1639.5,929.8 1641.5,929.6 1643.4,929.3 1645.4,929.0 1647.4,928.7 1649.4,928.4 1651.4,928.1 1653.3,927.8 1655.3,927.6 1657.3,927.3 1659.3,927.0 1661.3,926.7 1663.3,926.4 1665.2,926.2 1667.2,925.9 1669.2,925.6 1671.2,925.3 1673.2,925.1 1675.2,924.8 1677.2,924.5 1679.1,924.3 1681.1,924.0 1683.1,923.7 1685.1,923.5 1687.1,923.2 1689.1,922.9 1691.0,922.7 1693.0,922.4 1695.0,922.2 1697.0,921.9 1699.0,921.7 1701.0,921.4 1703.0,921.2 1705.0,920.9 1706.9,920.7 1708.9,920.4 1710.9,920.2 1712.9,919.9 1714.9,919.7 1716.9,919.5 1718.9,919.2 1720.9,919.0 1722.9,918.8 1724.8,918.6 1726.8,918.3 1728.8,918.1 1730.8,917.9 1732.8,917.7 1734.8,917.5 1736.8,917.3 1738.8,917.1 1740.8,916.9 1742.8,916.7 1744.8,916.5 1746.8,916.3 1748.7,916.1 1750.7,915.9 1752.7,915.7 1754.7,915.5 1756.7,915.3 1758.7,915.1 1760.7,915.0 1762.7,914.8 1764.7,914.6 1766.7,914.5 1768.7,914.3 1770.7,914.1 1772.7,914.0 1774.7,913.8 1776.7,913.7 1778.7,913.5 1780.7,913.4 1782.7,913.3 1784.7,913.1 1786.7,913.0 1788.7,912.9 1790.7,912.7 1792.7,912.6 1794.7,912.5 1796.7,912.4 1798.7,912.3 1800.7,912.2 1802.7,912.1 1804.7,912.0 1806.7,911.9 1808.7,911.8 1810.8,911.7 1812.8,911.7 1814.8,911.6 1816.8,911.5 1818.8,911.4 1820.8,911.4 1822.8,911.3 1824.8,911.3 1826.8,911.2 1828.8,911.2 1830.8,911.1 1832.9,911.1 1834.9,911.1 1836.9,911.0 1838.9,911.0 1840.9,911.0 1842.9,910.9 1844.9,910.8 1846.9,910.8 1848.9,910.7 1850.9,910.6 1852.9,910.5 1854.9,910.3 1856.8,910.2 1858.8,910.0 1860.8,909.8 1862.7,909.5 1864.7,909.2 1866.6,908.9 1868.6,908.6 1870.5,908.2 1872.4,907.8 1874.3,907.3 1876.2,906.8 1878.1,906.2 1880.0,905.6 1881.8,905.0 1883.7,904.3 1885.5,903.5 1887.3,902.7 1889.1,901.8 1890.9,900.9 1892.7,900.0 1894.5,899.0 1896.3,898.0 1898.1,897.0 1899.8,896.0 1901.6,894.9 1903.4,893.9 1905.1,892.9 1906.9,891.8 1908.7,890.8 1910.4,889.8 1912.2,888.8 1913.9,887.8 1915.7,886.9 1917.5,886.0 1919.3,885.1 1921.1,884.3 1922.9,883.6 1924.7,882.8 1926.5,882.2"/>
<path stroke="#ebc66c" stroke-width="5.5" d="M307.3,484.5L307.7,482.5 308.2,480.5 308.6,478.6 309.0,476.6 309.5,474.6 310.0,472.6 310.4,470.6 310.9,468.7 311.4,466.7 311.9,464.7 312.4,462.7 312.9,460.7 313.4,458.7 313.9,456.7 314.5,454.8 315.0,452.8 315.5,450.8 316.1,448.8 316.7,446.8 317.2,444.8 317.8,442.9 318.4,440.9 319.0,438.9 319.5,436.9 320.1,434.9 320.7,433.0 321.4,431.0 322.0,429.0 322.6,427.1 323.2,425.1 323.8,423.1 324.5,421.2 325.1,419.2 325.8,417.3 326.4,415.3 327.1,413.4 327.8,411.4 328.5,409.5 329.3,407.6 330.1,405.8 330.9,403.9 331.7,402.1 332.6,400.3 333.5,398.5 334.5,396.7 335.5,395.0 336.6,393.3 337.7,391.7 338.9,390.1 340.2,388.5 341.5,387.0 342.9,385.5 344.4,386.9 345.8,388.4 347.2,389.9 348.5,391.4 349.7,393.0 350.9,394.5 352.0,396.1 353.1,397.8 354.1,399.4 355.1,401.1 356.0,402.8 357.0,404.5 357.9,406.3 358.8,408.0 359.6,409.8 360.5,411.5 361.3,413.3 362.2,415.1 363.0,416.9 363.9,418.7 364.7,420.5 365.6,422.3 366.5,424.1 367.4,425.9 368.4,427.8 369.4,429.6 370.4,431.4 371.5,433.2 372.6,434.9 373.7,436.7 374.9,438.4 376.2,440.1 377.5,441.8 378.9,443.3 380.3,444.9 381.7,446.3 383.2,447.6 384.8,448.8 386.4,449.9 388.1,450.9 389.9,451.8 391.7,452.5 393.5,453.0 395.4,453.4 397.3,453.7 399.1,453.8 401.0,453.7 402.8,453.5 404.7,453.2 406.5,452.6 408.3,452.0 410.0,451.3 411.8,450.4 413.5,449.4 415.2,448.4 416.9,447.3 418.5,446.0 420.1,444.8 421.7,443.4 423.2,442.1 424.8,440.7 426.3,439.2 427.7,437.8 429.2,436.3 430.6,434.8 431.9,433.3 433.3,431.8 434.6,430.2 435.9,428.7 437.2,427.1 438.4,425.5 439.6,423.9 440.8,422.3 442.0,420.6 443.2,419.0 444.3,417.3 445.4,415.6 446.5,414.0 447.6,412.3 448.7,410.6 449.8,408.9 450.8,407.1 451.8,405.4 452.9,403.7 453.9,402.0 454.9,400.2 455.9,398.5 456.9,396.7 457.8,395.0 458.8,393.2 459.8,391.5 460.8,389.7 461.7,388.0 462.7,386.2 463.6,384.5 464.6,382.7 465.5,381.0 466.4,379.2 467.4,377.4 468.3,375.7 469.2,373.9 470.1,372.1 471.0,370.4 471.9,368.6 472.8,366.8 473.7,365.0 474.6,363.2 475.5,361.5 476.4,359.7 477.3,357.9 478.2,356.1 479.1,354.3 479.9,352.6 480.8,350.8 481.7,349.0 482.5,347.2 483.4,345.4 484.3,343.6 485.1,341.8 486.0,340.0 486.9,338.2 487.7,336.4 488.6,334.6 489.4,332.9 490.3,331.1 491.1,329.3 492.0,327.5 492.9,325.7 493.7,323.9 494.6,322.1 495.4,320.3 496.3,318.5 497.1,316.7 498.0,314.9 498.8,313.0 499.7,311.2 500.5,309.4 501.4,307.6 502.2,305.8 503.1,304.0 504.0,302.2 504.8,300.4 505.7,298.6 506.6,296.8 507.4,295.0 508.3,293.2 509.2,291.4 510.0,289.6 510.9,287.8 511.8,286.0 512.7,284.2 513.5,282.4 514.4,280.6 515.3,278.8 516.2,277.0 517.1,275.2 518.0,273.3 518.9,271.5 519.8,269.7 520.7,267.9 521.7,266.1 522.6,264.3 523.5,262.5 524.4,260.7 525.4,258.9 526.3,257.1 527.2,255.3 528.2,253.5 529.2,251.7 530.1,250.0 531.1,248.2 532.0,246.4 533.0,244.6 534.0,242.8 535.0,241.0 536.0,239.2 537.0,237.4 538.0,235.7 539.1,233.9 540.1,232.2 541.2,230.4 542.2,228.7 543.3,227.0 544.4,225.3 545.6,223.6 546.7,222.0 547.9,220.3 549.0,218.7 550.2,217.1 551.5,215.5 552.7,214.0 554.0,212.5 555.2,211.0 556.6,209.5 557.9,208.1 559.3,206.7 560.7,205.3 562.1,203.9 563.6,202.6 565.0,201.4 566.6,200.1 568.1,199.0 569.7,197.8 571.3,196.7 573.0,195.7 574.7,194.6 576.4,193.7 578.1,192.7 580.0,191.9 581.8,191.1 583.6,190.3 585.5,189.6 587.4,189.0 589.4,188.4 591.3,187.9 593.3,187.5 595.2,187.2 597.2,187.0 599.1,186.8 601.1,186.7 603.0,186.8 605.0,186.9 606.9,187.1 608.8,187.5 610.7,187.9 612.6,188.5 614.4,189.2 616.2,190.0 618.0,190.9 619.7,192.0 621.4,193.1 623.0,194.4 624.7,195.7 626.3,197.1 627.9,198.5 629.4,199.9 630.9,201.3 632.4,202.8 633.9,204.2 635.4,205.7 636.8,207.2 638.2,208.6 639.6,210.1 641.0,211.6 642.4,213.1 643.7,214.6 645.0,216.1 646.4,217.6 647.7,219.1 648.9,220.6 650.2,222.1 651.5,223.7 652.7,225.2 653.9,226.8 655.2,228.3 656.4,229.9 657.6,231.4 658.8,233.0 660.0,234.6 661.2,236.2 662.4,237.8 663.5,239.4 664.7,241.0 665.9,242.6 667.0,244.2 668.2,245.8 669.4,247.5 670.5,249.1 671.7,250.8 672.8,252.4 673.9,254.1 675.1,255.8 676.2,257.5 677.3,259.1 678.4,260.8 679.4,262.5 680.5,264.3 681.6,266.0 682.6,267.7 683.6,269.4 684.6,271.2 685.6,272.9 686.6,274.7 687.6,276.4 688.5,278.2 689.4,280.0 690.3,281.8 691.2,283.5 692.1,285.3 693.0,287.1 693.8,289.0 694.6,290.8 695.4,292.6 696.2,294.4 697.0,296.3 697.7,298.1 698.5,299.9 699.2,301.8 699.9,303.6 700.6,305.5 701.3,307.4 701.9,309.3 702.6,311.1 703.2,313.0 703.9,314.9 704.5,316.8 705.1,318.7 705.7,320.6 706.2,322.5 706.8,324.4 707.4,326.3 707.9,328.2 708.4,330.2 708.9,332.1 709.5,334.0 710.0,336.0 710.5,337.9 710.9,339.8 711.4,341.8 711.9,343.7 712.3,345.7 712.8,347.6 713.2,349.6 713.7,351.5 714.1,353.5 714.5,355.5 714.9,357.4 715.3,359.4 715.7,361.4 716.1,363.3 716.5,365.3 716.9,367.3 717.3,369.2 717.7,371.2 718.1,373.2 718.4,375.2 718.8,377.2 719.2,379.1 719.5,381.1 719.9,383.1 720.2,385.1 720.6,387.1 720.9,389.0 721.3,391.0 721.6,393.0 722.0,395.0 722.3,397.0 722.7,398.9 723.0,400.9 723.3,402.9 723.7,404.9 724.0,406.9 724.4,408.8 724.7,410.8 725.0,412.8 725.3,414.8 725.7,416.8 726.0,418.8 726.3,420.7 726.7,422.7 727.0,424.7 727.3,426.7 727.6,428.7 727.9,430.7 728.3,432.6 728.6,434.6 728.9,436.6 729.2,438.6 729.5,440.6 729.8,442.6 730.2,444.5 730.5,446.5 730.8,448.5 731.1,450.5 731.4,452.5 731.7,454.4 732.0,456.4 732.3,458.4 732.6,460.4 733.0,462.4 733.3,464.4 733.6,466.3 733.9,468.3 734.2,470.3 734.5,472.3 734.8,474.3 735.1,476.2 735.4,478.2 735.7,480.2 736.0,482.2 736.3,484.1 736.7,486.1 737.0,488.1 737.3,490.1 737.6,492.1 737.9,494.0 738.2,496.0 738.5,498.0 738.8,500.0 739.1,501.9 739.4,503.9 739.8,505.9 740.1,507.8 740.4,509.8 740.7,511.8 741.0,513.8 741.3,515.7 741.7,517.7 742.0,519.7 742.3,521.6 742.6,523.6 742.9,525.6 743.3,527.5 743.6,529.5 743.9,531.5 744.2,533.4 744.6,535.4 744.9,537.4 745.2,539.3 745.6,541.3 745.9,543.2 746.2,545.2 746.6,547.2 746.9,549.1 747.3,551.1 747.6,553.0 747.9,555.0 748.3,556.9 748.6,558.9 749.0,560.9 749.3,562.8 749.7,564.8 750.1,566.7 750.4,568.7 750.8,570.6 751.2,572.6 751.5,574.5 751.9,576.5 752.3,578.4 752.7,580.4 753.1,582.4 753.5,584.3 753.8,586.3 754.2,588.2 754.7,590.2 755.1,592.2 755.5,594.1 755.9,596.1 756.3,598.1 756.8,600.0 757.2,602.0 757.6,604.0 758.1,606.0 758.5,607.9 759.0,609.9 759.4,611.9 759.9,613.9 760.4,615.9 760.9,617.8 761.4,619.8 761.9,621.8 762.4,623.8 762.9,625.8 763.4,627.8 763.9,629.8 764.5,631.8 765.1,633.8 765.7,635.7 766.3,637.7 766.9,639.6 767.6,641.6 768.2,643.5 768.9,645.4 769.7,647.3 770.4,649.1 771.2,650.9 772.1,652.7 772.9,654.5 773.8,656.3 774.8,658.0 775.8,659.6 776.8,661.3 777.9,662.9 779.0,664.5 780.2,666.0 781.4,667.5 782.7,668.9 784.0,670.3 785.4,671.6 786.8,672.9 788.3,674.2 789.8,675.4 791.4,676.6 793.0,677.7 794.6,678.8 796.3,679.9 798.0,680.9 799.8,681.9 801.5,682.8 803.3,683.7 805.2,684.6 807.0,685.4 808.9,686.2 810.8,687.0 812.7,687.7 814.6,688.4 816.5,689.1 818.5,689.7 820.4,690.3 822.4,690.8 824.4,691.3 826.4,691.8 828.4,692.3 830.4,692.7 832.4,693.0 834.4,693.3 836.4,693.6 838.4,693.9 840.4,694.1 842.4,694.3 844.4,694.4 846.4,694.5 848.4,694.6 850.4,694.6 852.4,694.6 854.4,694.5 856.3,694.4 858.3,694.3 860.3,694.2 862.3,694.0 864.2,693.8 866.2,693.5 868.2,693.2 870.1,692.9 872.1,692.6 874.0,692.3 876.0,691.9 877.9,691.5 879.8,691.1 881.8,690.6 883.7,690.1 885.6,689.6 887.5,689.1 889.4,688.6 891.3,688.0 893.2,687.4 895.1,686.9 897.0,686.2 898.9,685.6 900.7,685.0 902.6,684.3 904.5,683.6 906.3,683.0 908.2,682.3 910.1,681.6 911.9,680.9 913.8,680.1 915.7,679.4 917.5,678.7 919.4,677.9 921.3,677.2 923.1,676.4 925.0,675.6 926.9,674.9 928.8,674.1 930.6,673.3 932.5,672.6 934.4,671.8 936.3,671.0 938.2,670.3 940.1,669.5 942.0,668.8 943.9,668.0 945.8,667.3 947.7,666.6 949.6,665.9 951.5,665.2 953.4,664.5 955.3,663.8 957.3,663.2 959.2,662.5 961.1,661.9 963.1,661.3 965.0,660.8 966.9,660.2 968.9,659.7 970.8,659.2 972.8,658.8 974.7,658.4 976.7,658.0 978.6,657.6 980.6,657.3 982.5,657.0 984.5,656.7 986.4,656.5 988.4,656.3 990.4,656.2 992.3,656.1 994.3,656.0 996.3,656.0 998.3,656.1 1000.2,656.2 1002.2,656.3 1004.2,656.5 1006.2,656.7 1008.1,657.0 1010.1,657.3 1012.0,657.7 1013.9,658.2 1015.8,658.7 1017.7,659.2 1019.6,659.8 1021.5,660.5 1023.3,661.2 1025.1,662.0 1026.9,662.8 1028.7,663.7 1030.4,664.7 1032.1,665.7 1033.7,666.7 1035.4,667.9 1037.0,669.0 1038.6,670.3 1040.1,671.5 1041.7,672.9 1043.2,674.2 1044.7,675.6 1046.1,677.0 1047.6,678.4 1049.0,679.9 1050.4,681.4 1051.8,682.9 1053.2,684.4 1054.6,685.9 1055.9,687.5 1057.3,689.0 1058.6,690.6 1060.0,692.1 1061.3,693.7 1062.6,695.2 1063.9,696.8 1065.2,698.4 1066.4,699.9 1067.7,701.5 1069.0,703.0 1070.2,704.6 1071.5,706.2 1072.7,707.7 1074.0,709.3 1075.2,710.9 1076.4,712.5 1077.6,714.1 1078.8,715.6 1080.0,717.2 1081.2,718.8 1082.3,720.4 1083.5,722.0 1084.6,723.6 1085.8,725.2 1086.9,726.9 1088.1,728.5 1089.2,730.1 1090.3,731.7 1091.4,733.4 1092.5,735.0 1093.6,736.7 1094.7,738.3 1095.8,740.0 1096.9,741.7 1097.9,743.3 1099.0,745.0 1100.1,746.7 1101.1,748.4 1102.1,750.1 1103.2,751.8 1104.2,753.5 1105.2,755.3 1106.3,757.0 1107.3,758.7 1108.3,760.5 1109.3,762.2 1110.3,763.9 1111.4,765.7 1112.4,767.4 1113.4,769.2 1114.4,770.9 1115.4,772.7 1116.4,774.4 1117.4,776.2 1118.4,777.9 1119.4,779.7 1120.4,781.4 1121.5,783.1 1122.5,784.9 1123.5,786.6 1124.5,788.4 1125.5,790.1 1126.6,791.8 1127.6,793.6 1128.7,795.3 1129.7,797.0 1130.8,798.7 1131.8,800.4 1132.9,802.1 1134.0,803.8 1135.1,805.5 1136.2,807.2 1137.3,808.9 1138.4,810.5 1139.5,812.2 1140.6,813.9 1141.8,815.5 1142.9,817.1 1144.1,818.7 1145.3,820.4 1146.5,821.9 1147.7,823.5 1148.9,825.1 1150.1,826.7 1151.3,828.2 1152.6,829.8 1153.9,831.3 1155.1,832.8 1156.4,834.3 1157.8,835.8 1159.1,837.2 1160.4,838.7 1161.8,840.1 1163.2,841.6 1164.6,843.0 1166.0,844.3 1167.5,845.7 1168.9,847.1 1170.4,848.4 1171.9,849.7 1173.4,851.0 1175.0,852.3 1176.5,853.5 1178.1,854.8 1179.7,856.0 1181.3,857.2 1183.0,858.4 1184.6,859.6 1186.3,860.7 1187.9,861.9 1189.6,863.0 1191.3,864.2 1193.0,865.3 1194.6,866.5 1196.3,867.6 1198.0,868.8 1199.7,869.9 1201.3,871.1 1203.0,872.2 1204.6,873.4 1206.2,874.6 1207.8,875.8 1209.4,877.0 1211.0,878.3 1212.6,879.5 1214.1,880.8 1215.6,882.1 1217.1,883.4 1218.5,884.7 1220.0,886.0 1221.4,887.4 1222.8,888.8 1224.2,890.1 1225.6,891.5 1227.0,893.0 1228.4,894.4 1229.7,895.8 1231.1,897.3 1232.5,898.7 1233.8,900.2 1235.2,901.7 1236.5,903.1 1237.9,904.6 1239.3,906.1 1240.6,907.6 1242.0,909.1 1243.4,910.6 1244.8,912.1 1246.2,913.6 1247.6,915.1 1249.1,916.6 1250.5,918.0 1252.0,919.5 1253.5,920.9 1255.0,922.3 1256.5,923.7 1258.0,925.0 1259.6,926.3 1261.1,927.6 1262.7,928.8 1264.4,930.0 1266.0,931.1 1267.7,932.2 1269.4,933.2 1271.1,934.2 1272.8,935.1 1274.6,936.0 1276.4,936.7 1278.2,937.5 1280.1,938.1 1282.0,938.7 1283.9,939.2 1285.9,939.7 1287.8,940.1 1289.8,940.5 1291.7,940.9 1293.7,941.2 1295.7,941.6 1297.7,941.9 1299.7,942.2 1301.7,942.5 1303.7,942.8 1305.7,943.1 1307.7,943.3 1309.6,943.6 1311.6,943.9 1313.6,944.1 1315.6,944.3 1317.6,944.6 1319.6,944.8 1321.6,945.0 1323.6,945.2 1325.6,945.4 1327.6,945.6 1329.6,945.8 1331.6,945.9 1333.6,946.1 1335.5,946.3 1337.5,946.4 1339.5,946.6 1341.5,946.7 1343.5,946.8 1345.5,946.9 1347.5,947.1 1349.5,947.2 1351.5,947.3 1353.5,947.4 1355.5,947.4 1357.5,947.5 1359.5,947.6 1361.5,947.7 1363.5,947.7 1365.5,947.8 1367.5,947.8 1369.5,947.9 1371.5,947.9 1373.5,947.9 1375.5,947.9 1377.5,948.0 1379.5,948.0 1381.5,948.0 1383.5,948.0 1385.5,948.0 1387.5,948.0 1389.5,947.9 1391.5,947.9 1393.5,947.9 1395.5,947.9 1397.5,947.8 1399.5,947.8 1401.5,947.7 1403.5,947.7 1405.5,947.6 1407.5,947.6 1409.5,947.5 1411.5,947.4 1413.5,947.3 1415.5,947.3 1417.5,947.2 1419.5,947.1 1421.5,947.0 1423.5,946.9 1425.5,946.8 1427.5,946.7 1429.5,946.6 1431.5,946.5 1433.5,946.4 1435.5,946.3 1437.5,946.2 1439.5,946.0 1441.5,945.9 1443.5,945.8 1445.5,945.7 1447.5,945.5 1449.5,945.4 1451.5,945.2 1453.5,945.1 1455.5,945.0 1457.5,944.8 1459.5,944.7 1461.5,944.5 1463.5,944.4 1465.5,944.2 1467.5,944.0 1469.5,943.9 1471.5,943.7 1473.5,943.6 1475.5,943.4 1477.5,943.2 1479.5,943.1 1481.5,942.9 1483.5,942.7 1485.5,942.6 1487.5,942.4 1489.5,942.2 1491.5,942.0 1493.5,941.9 1495.5,941.7 1497.5,941.5 1499.5,941.3 1501.5,941.2 1503.5,941.0 1505.5,940.8 1507.5,940.6 1509.5,940.5 1511.5,940.3 1513.5,940.1 1515.5,939.9 1517.5,939.7 1519.5,939.6 1521.5,939.4 1523.5,939.2 1525.5,939.0 1527.5,938.9 1529.5,938.7 1531.5,938.5 1533.5,938.3 1535.5,938.1 1537.5,938.0 1539.5,937.8 1541.5,937.6 1543.5,937.4 1545.5,937.3 1547.5,937.1 1549.5,936.9 1551.5,936.7 1553.4,936.6 1555.4,936.4 1557.4,936.2 1559.4,936.0 1561.4,935.9 1563.4,935.7 1565.4,935.5 1567.4,935.3 1569.4,935.1 1571.4,935.0 1573.4,934.8 1575.4,934.6 1577.4,934.4 1579.4,934.3 1581.4,934.1 1583.4,933.9 1585.4,933.7 1587.3,933.5 1589.3,933.4 1591.3,933.2 1593.3,933.0 1595.3,932.8 1597.3,932.6 1599.3,932.4 1601.3,932.3 1603.3,932.1 1605.3,931.9 1607.3,931.7 1609.3,931.5 1611.3,931.3 1613.2,931.1 1615.2,931.0 1617.2,930.8 1619.2,930.6 1621.2,930.4 1623.2,930.2 1625.2,930.0 1627.2,929.8 1629.2,929.6 1631.2,929.4 1633.2,929.2 1635.2,929.0 1637.1,928.9 1639.1,928.7 1641.1,928.5 1643.1,928.3 1645.1,928.1 1647.1,927.9 1649.1,927.7 1651.1,927.5 1653.1,927.3 1655.1,927.1 1657.0,926.9 1659.0,926.7 1661.0,926.4 1663.0,926.2 1665.0,926.0 1667.0,925.8 1669.0,925.6 1671.0,925.4 1673.0,925.2 1675.0,925.0 1676.9,924.8 1678.9,924.6 1680.9,924.3 1682.9,924.1 1684.9,923.9 1686.9,923.7 1688.9,923.5 1690.9,923.3 1692.9,923.0 1694.8,922.8 1696.8,922.6 1698.8,922.4 1700.8,922.2 1702.8,921.9 1704.8,921.7 1706.8,921.5 1708.8,921.3 1710.8,921.1 1712.8,920.9 1714.7,920.6 1716.7,920.4 1718.7,920.2 1720.7,920.0 1722.7,919.8 1724.7,919.6 1726.7,919.4 1728.7,919.2 1730.7,919.0 1732.7,918.7 1734.7,918.5 1736.7,918.3 1738.6,918.1 1740.6,917.9 1742.6,917.7 1744.6,917.5 1746.6,917.3 1748.6,917.2 1750.6,917.0 1752.6,916.8 1754.6,916.6 1756.6,916.4 1758.6,916.2 1760.6,916.0 1762.6,915.9 1764.6,915.7 1766.6,915.5 1768.6,915.4 1770.6,915.2 1772.6,915.0 1774.6,914.9 1776.6,914.7 1778.6,914.6 1780.6,914.4 1782.6,914.3 1784.6,914.1 1786.6,914.0 1788.6,913.9 1790.6,913.7 1792.6,913.6 1794.6,913.5 1796.6,913.4 1798.6,913.2 1800.6,913.1 1802.6,913.0 1804.6,912.9 1806.6,912.8 1808.6,912.7 1810.6,912.6 1812.6,912.5 1814.6,912.5 1816.6,912.4 1818.6,912.3 1820.7,912.3 1822.7,912.2 1824.7,912.1 1826.7,912.1 1828.7,912.0 1830.7,912.0 1832.7,912.0 1834.7,911.9 1836.8,911.9 1838.8,911.9 1840.8,911.8 1842.8,911.8 1844.8,911.7 1846.8,911.7 1848.8,911.6 1850.8,911.5 1852.8,911.4 1854.8,911.3 1856.8,911.2 1858.8,911.0 1860.7,910.8 1862.7,910.6 1864.7,910.3 1866.6,910.1 1868.6,909.8 1870.5,909.4 1872.5,909.0 1874.4,908.6 1876.3,908.1 1878.2,907.6 1880.1,907.1 1882.0,906.5 1883.9,905.8 1885.7,905.1 1887.6,904.4 1889.5,903.6 1891.3,902.8 1893.1,901.9 1894.9,901.0 1896.7,900.1 1898.6,899.1 1900.3,898.2 1902.1,897.2 1903.9,896.2 1905.7,895.1 1907.4,894.1 1909.2,893.1 1911.0,892.0 1912.7,891.0 1914.4,890.0 1916.2,888.9 1917.9,887.9 1919.6,886.9 1921.4,886.0 1923.1,885.0 1924.8,884.1 1926.5,883.2"/>
</g>
<g stroke="#000" stroke-width="5.5" fill="none">
<line x1="439.5" y1="1083" x2="439.5" y2="1060" />
<line x1="645.6" y1="1083" x2="645.6" y2="1060" />
<line x1="851.7" y1="1083" x2="851.7" y2="1060" />
<line x1="1057.8" y1="1083" x2="1057.8" y2="1060" />
<line x1="1263.9" y1="1083" x2="1263.9" y2="1060" />
<line x1="1470.0" y1="1083" x2="1470.0" y2="1060" />
<line x1="1676.1" y1="1083" x2="1676.1" y2="1060" />
<line x1="1882.2" y1="1083" x2="1882.2" y2="1060" />
<line x1="336.4" y1="1083" x2="336.4" y2="1072" />
<line x1="542.5" y1="1083" x2="542.5" y2="1072" />
<line x1="748.6" y1="1083" x2="748.6" y2="1072" />
<line x1="954.8" y1="1083" x2="954.8" y2="1072" />
<line x1="1160.8" y1="1083" x2="1160.8" y2="1072" />
<line x1="1367.0" y1="1083" x2="1367.0" y2="1072" />
<line x1="1573.0" y1="1083" x2="1573.0" y2="1072" />
<line x1="1779.2" y1="1083" x2="1779.2" y2="1072" />
<line x1="233" y1="904.5" x2="256" y2="904.5" />
<line x1="233" y1="700.5" x2="256" y2="700.5" />
<line x1="233" y1="496.5" x2="256" y2="496.5" />
<line x1="233" y1="292.5" x2="256" y2="292.5" />
<line x1="233" y1="88.5" x2="256" y2="88.5" />
<line x1="233" y1="1006.5" x2="245" y2="1006.5" />
<line x1="233" y1="802.5" x2="245" y2="802.5" />
<line x1="233" y1="598.5" x2="245" y2="598.5" />
<line x1="233" y1="394.5" x2="245" y2="394.5" />
<line x1="233" y1="190.5" x2="245" y2="190.5" />
</g>
<path d="M233,60 V1083 H1937" stroke="#000" stroke-width="6" fill="none" stroke-linejoin="miter"/>
<g font-size="56">
<text x="234.4" y="1152" text-anchor="middle">900</text>
<text x="440.5" y="1152" text-anchor="middle">1000</text>
<text x="646.6" y="1152" text-anchor="middle">1100</text>
<text x="852.7" y="1152" text-anchor="middle">1200</text>
<text x="1058.8" y="1152" text-anchor="middle">1300</text>
<text x="1264.9" y="1152" text-anchor="middle">1400</text>
<text x="1471.0" y="1152" text-anchor="middle">1500</text>
<text x="1677.1" y="1152" text-anchor="middle">1600</text>
<text x="1883.2" y="1152" text-anchor="middle">1700</text>
<text x="209" y="920.5" text-anchor="end">−0.8</text>
<text x="209" y="716.5" text-anchor="end">0.0</text>
<text x="209" y="512.5" text-anchor="end">0.8</text>
<text x="209" y="308.5" text-anchor="end">1.6</text>
<text x="209" y="104.5" text-anchor="end">2.4</text>
</g>
<text x="316" y="102" font-size="78">(c)</text>
<g stroke-width="5" stroke-linecap="round">
<line x1="1502" y1="94.5" x2="1624" y2="94.5" stroke="#75370b"/>
<line x1="1502" y1="163" x2="1624" y2="163" stroke="#ef8328"/>
<line x1="1502" y1="231.5" x2="1624" y2="231.5" stroke="#ebc66c"/>
</g>
<g font-size="56">
<text x="1638" y="112.5">L25</text>
<text x="1638" y="181">Bluecrop</text>
<text x="1638" y="249.5">Lexi</text>
</g>
<text x="1084" y="1254" font-size="67.5" text-anchor="middle">Wavelength/nm</text>
<text transform="translate(81,573) rotate(-90)" font-size="67" text-anchor="middle">Energy/number of photons</text>
</svg>
</body></html>
